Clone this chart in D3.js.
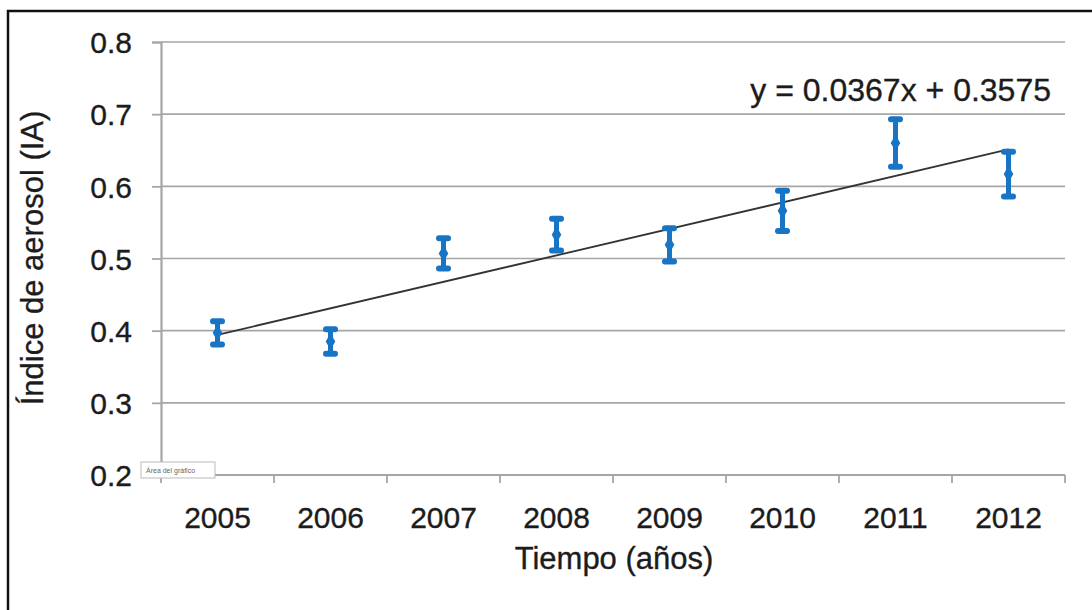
<!DOCTYPE html>
<html>
<head>
<meta charset="utf-8">
<script src="https://cdn.jsdelivr.net/npm/d3@7"></script>
<style>
  html, body { margin: 0; padding: 0; background: #fff; }
  svg { display: block; }
  text { font-family: "Liberation Sans", Arial, sans-serif; fill: #1c1c1c; stroke: #1c1c1c; stroke-width: 0.35px; }
</style>
</head>
<body>
<svg id="chart" width="1092" height="610"></svg>
<script>
// Annual aerosol index, mean with error range
const years = ["2005", "2006", "2007", "2008", "2009", "2010", "2011", "2012"];
const means = [0.397, 0.385, 0.507, 0.533, 0.519, 0.566, 0.660, 0.617];
const errors = [0.016, 0.017, 0.021, 0.022, 0.023, 0.028, 0.033, 0.031];
const yTicks = [0.2, 0.3, 0.4, 0.5, 0.6, 0.7, 0.8];
// Linear fit: y = slope * x + intercept, x = 1..8
const slope = 0.0367;
const intercept = 0.3575;
const equationLabel = "y = 0.0367x + 0.3575";

const svg = d3.select("#chart");
const margin = { left: 161, right: 1065, top: 42, bottom: 475 };

// outer frame
svg.append("path")
  .attr("d", "M8,620 L8,11 L1100,11")
  .attr("fill", "none").attr("stroke", "#111").attr("stroke-width", 2.5);

const x = d3.scaleBand().domain(years).range([margin.left, margin.right]);
const y = d3.scaleLinear().domain([0.2, 0.8]).range([margin.bottom, margin.top]);

// horizontal gridlines
svg.append("g").selectAll("line").data(yTicks.slice(1)).join("line")
  .attr("x1", margin.left).attr("x2", margin.right)
  .attr("y1", d => y(d)).attr("y2", d => y(d))
  .attr("stroke", "#a6a6a6").attr("stroke-width", 1.6);

// y axis
const yAxis = svg.append("g").attr("transform", `translate(${margin.left},0)`)
  .call(d3.axisLeft(y).tickValues(yTicks).tickFormat(d3.format(".1f")).tickSize(9).tickPadding(20));
yAxis.select(".domain").attr("stroke", "#a6a6a6").attr("stroke-width", 2.2);
yAxis.selectAll(".tick line").attr("stroke", "#a6a6a6").attr("stroke-width", 1.8);
yAxis.selectAll(".tick text").style("font-size", "30px").attr("fill", "#1c1c1c").attr("dy", "0.36em");

// x axis with ticks at band boundaries
const xAxisG = svg.append("g").attr("transform", `translate(0,${margin.bottom})`);
xAxisG.append("line")
  .attr("x1", margin.left).attr("x2", margin.right)
  .attr("stroke", "#a6a6a6").attr("stroke-width", 2.2);
const boundaries = years.map(d => x(d)).concat([x(years[years.length - 1]) + x.bandwidth()]);
xAxisG.selectAll("line.tk").data(boundaries).join("line").attr("class", "tk")
  .attr("x1", d => d).attr("x2", d => d).attr("y1", 0).attr("y2", 8)
  .attr("stroke", "#a6a6a6").attr("stroke-width", 1.8);
xAxisG.selectAll("text").data(years).join("text")
  .attr("x", d => x(d) + x.bandwidth() / 2).attr("y", 53)
  .attr("text-anchor", "middle").style("font-size", "30px").text(d => d);

// trend line
const cx = d => x(d) + x.bandwidth() / 2;
const trend = [years[0], years[years.length - 1]].map(d => {
  const i = years.indexOf(d) + 1;
  return [cx(d), y(slope * i + intercept)];
});
svg.append("path").attr("d", d3.line()(trend))
  .attr("stroke", "#333").attr("stroke-width", 1.8).attr("fill", "none");

// error bars
const blue = "#1874c4";
const bars = svg.append("g").selectAll("g").data(years).join("g");
bars.append("line")
  .attr("x1", d => cx(d)).attr("x2", d => cx(d))
  .attr("y1", (d, i) => y(means[i] + errors[i])).attr("y2", (d, i) => y(means[i] - errors[i]))
  .attr("stroke", blue).attr("stroke-width", 5);
[1, -1].forEach(s => {
  bars.append("line")
    .attr("x1", d => cx(d) - 4.5).attr("x2", d => cx(d) + 4.5)
    .attr("y1", (d, i) => y(means[i] + s * errors[i])).attr("y2", (d, i) => y(means[i] + s * errors[i]))
    .attr("stroke", blue).attr("stroke-width", 6).attr("stroke-linecap", "round");
});
bars.append("path")
  .attr("transform", (d, i) => `translate(${cx(d)},${y(means[i])})`)
  .attr("d", d3.symbol(d3.symbolDiamond, 80)())
  .attr("fill", blue);

// equation label
svg.append("text").attr("x", 1051).attr("y", 101).attr("text-anchor", "end")
  .style("font-size", "32px").text(equationLabel);

// axis titles
svg.append("text").attr("x", 614).attr("y", 569).attr("text-anchor", "middle")
  .style("font-size", "31px").text("Tiempo (años)");
svg.append("text").attr("transform", "translate(43,258) rotate(-90)")
  .attr("text-anchor", "middle").style("font-size", "31px").text("Índice de aerosol (IA)");

// chart-area tooltip tag
const tag = svg.append("g").attr("transform", "translate(141,462)");
tag.append("rect").attr("width", 74).attr("height", 16)
  .attr("fill", "#fff").attr("stroke", "#bbb").attr("stroke-width", 1);
tag.append("text").attr("x", 5).attr("y", 11).style("font-size", "7px")
  .style("fill", "#666").style("stroke", "none")
  .text("Área del gráfico");
</script>
</body>
</html>
